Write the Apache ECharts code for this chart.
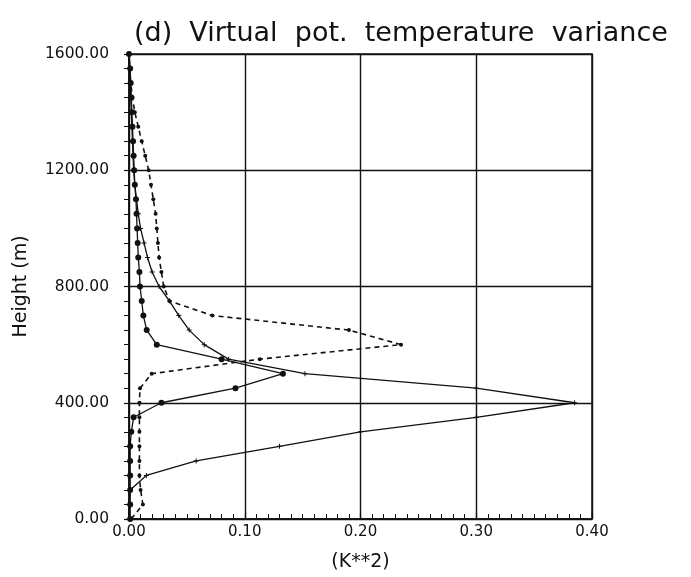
<!DOCTYPE html>
<html>
<head>
<meta charset="utf-8">
<script src="https://cdn.jsdelivr.net/npm/echarts@6/dist/echarts.min.js"></script>
<style>
html,body{margin:0;padding:0;background:#fff;}
#chart{width:691px;height:577px;}
</style>
</head>
<body>
<div id="chart"></div>
<script>
// Heights (m)
const heights = [0,50,100,150,200,250,300,350,400,450,500,550,600,650,700,750,800,850,900,950,1000,1050,1100,1150,1200,1250,1300,1350,1400,1450,1500,1550,1600];
// Series A: solid line, plus markers (peak at 400 m)
const varA = [0,0,0.001,0.015,0.058,0.13,0.20,0.30,0.385,0.30,0.152,0.086,0.065,0.052,0.043,0.035,0.026,0.020,0.016,0.013,0.010,0.008,0.0065,0.005,0.004,0.0035,0.003,0.0025,0.002,0.0015,0.001,0.0005,0];
// Series B: solid line, filled dots (peak at 500 m)
const varB = [0.001,0.001,0.001,0.001,0.001,0.001,0.002,0.004,0.028,0.092,0.133,0.080,0.024,0.0153,0.0124,0.011,0.0095,0.009,0.008,0.0075,0.007,0.0065,0.006,0.005,0.0045,0.004,0.0035,0.003,0.0025,0.002,0.0015,0.001,0];
// Series C: dashed line, small dots (peak at 600 m)
const varC = [0.002,0.012,0.010,0.009,0.009,0.009,0.009,0.009,0.009,0.0095,0.0196,0.113,0.235,0.19,0.072,0.035,0.030,0.028,0.026,0.025,0.024,0.023,0.021,0.019,0.017,0.014,0.011,0.008,0.005,0.003,0.0015,0.0005,0];

const xTicks = {min:0, max:0.4, interval:0.1};
const yTicks = {min:0, max:1600, interval:400};

function pairs(vals){ return vals.map((v,i)=>[v, heights[i]]); }

const chart = echarts.init(document.getElementById('chart'), null, {renderer:'canvas'});
const fontFam = '"DejaVu Sans", sans-serif';
chart.setOption({
  animation:false,
  backgroundColor:'#fff',
  title:{
    text:'(d)  Virtual  pot.  temperature  variance',
    left:129, top:15,
    textStyle:{fontFamily:fontFam, fontWeight:'normal', fontSize:27, color:'#111'}
  },
  grid:{left:129, right:99, top:54, bottom:56, show:true, borderColor:'#111', borderWidth:1.5, backgroundColor:'transparent'},
  xAxis:{
    type:'value', min:xTicks.min, max:xTicks.max, interval:xTicks.interval,
    name:'(K**2)', nameLocation:'middle', nameGap:34,
    nameTextStyle:{fontFamily:fontFam, fontSize:19, color:'#111'},
    axisLine:{show:true, lineStyle:{color:'#111', width:1.5}},
    axisTick:{show:true, inside:true, length:6, lineStyle:{color:'#111', width:1.2}},
    minorTick:{show:true, splitNumber:10, length:5, lineStyle:{color:'#111', width:1}},
    splitLine:{show:true, lineStyle:{color:'#111', width:1.4}},
    axisLabel:{fontFamily:fontFam, fontSize:15, color:'#111', margin:6, formatter:v=>v.toFixed(2)}
  },
  yAxis:{
    type:'value', min:yTicks.min, max:yTicks.max, interval:yTicks.interval,
    name:'Height (m)', nameLocation:'middle', nameGap:98,
    nameTextStyle:{fontFamily:fontFam, fontSize:19, color:'#111'},
    axisLine:{show:true, lineStyle:{color:'#111', width:1.5}},
    axisTick:{show:true, inside:false, length:5, lineStyle:{color:'#111', width:1.2}},
    minorTick:{show:true, splitNumber:8, length:5, lineStyle:{color:'#111', width:1}},
    splitLine:{show:true, lineStyle:{color:'#111', width:1.4}},
    axisLabel:{fontFamily:fontFam, fontSize:15.5, color:'#111', margin:20, formatter:v=>v.toFixed(2)}
  },
  series:[
    {
      type:'line', data:pairs(varA), smooth:false,
      symbol:'path://M4,0h2v10h-2zM0,4h10v2h-10z', symbolSize:5,
      itemStyle:{color:'#111'},
      lineStyle:{color:'#111', width:1.3}
    },
    {
      type:'line', data:pairs(varB),
      symbol:'circle', symbolSize:6,
      itemStyle:{color:'#111'},
      lineStyle:{color:'#111', width:1.3}
    },
    {
      type:'line', data:pairs(varC),
      symbol:'circle', symbolSize:4,
      itemStyle:{color:'#111'},
      lineStyle:{color:'#111', width:1.6, type:[5,4]}
    }
  ]
});
</script>
</body>
</html>
